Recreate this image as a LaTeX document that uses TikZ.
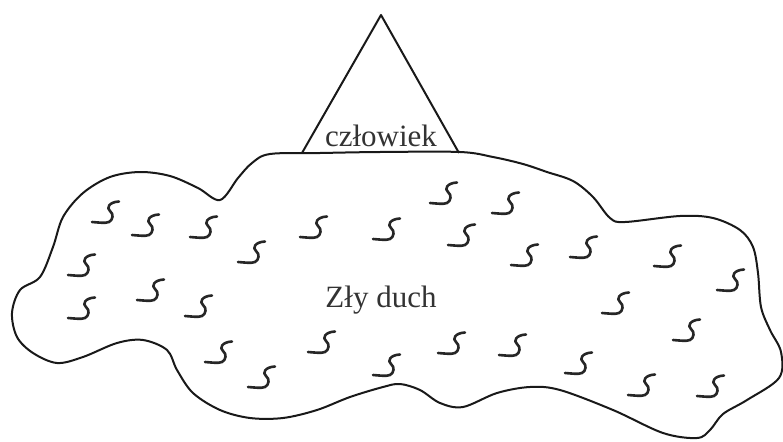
\documentclass[tikz,border=0pt]{standalone}
\usepackage{fontspec}
\setmainfont{Liberation Serif}
\begin{document}
\begin{tikzpicture}[x=1pt,y=-1pt,
  outline/.style={line width=2pt, line join=round, black!90},
  lbl/.style={font=\fontsize{31}{36}\selectfont, text=black!80, inner sep=0pt, anchor=base},
  squig/.pic={\draw[line width=2.6pt, line cap=round, line join=round, black!85]
     (0,0) .. controls (7,0.5) and (13,1.5) .. (17,0)
     .. controls (21,-2) and (22,-8) .. (18,-11)
     .. controls (14,-14) and (17,-20) .. (27,-20.5);}
]
\useasboundingbox (0,0) rectangle (783,441);
% cloud (Zły duch)
\draw[outline] plot[smooth cycle, tension=0.55] coordinates {
 (270,154) (320,153) (380,152) (460,152) (493,157) (523,164) (547,172) (573,181)
 (593,197) (610,218) (625,222) (680,216) (713,218) (740,230) (753,247) (758,273)
 (761,307) (770,330) (781,352) (779,378) (747,400) (723,414) (710,430) (697,438)
 (663,433) (613,410) (560,390) (530,387) (497,393) (463,407) (440,403) (420,390)
 (400,384) (383,387) (350,397) (317,410) (283,418) (250,418) (220,410) (193,393)
 (177,370) (167,350) (143,340) (117,343) (83,357) (57,363) (33,353) (17,337)
 (12,313) (20,290) (40,277) (53,247) (63,217) (83,193) (110,177) (140,172)
 (170,176) (198,188) (220,200) (238,178) (252,163)};
% triangle (człowiek)
\coordinate (apex) at (381,15);
\coordinate (bl) at (302,153);
\coordinate (br) at (459,153);
\draw[outline] (bl) -- (apex) -- (br);
\node[lbl] (czlowiek) at (381,146) {człowiek};
\node[lbl] (zly) at (381,307) {Zły duch};
% squiggles
\foreach \p in {(92,222),(132,235),(190,237),(238,262),(300,237),(373,239),
  (68,275),(137,300),(185,316),(68,318),(205,362),(248,387),(308,352),(373,375),
  (430,203),(492,213),(448,245),(511,265),(570,257),(654,266),(717,290),
  (602,313),(673,340),(438,353),(499,355),(565,373),(628,395),(697,396)}
  \pic at \p {squig};
\end{tikzpicture}
\end{document}
